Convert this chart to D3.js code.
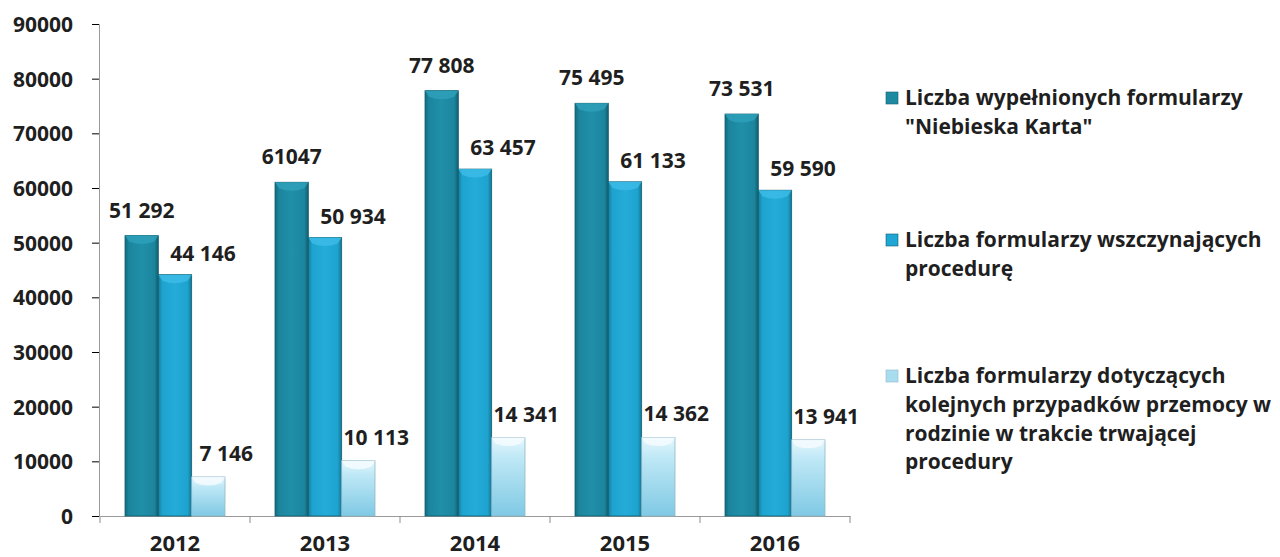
<!DOCTYPE html>
<html>
<head>
<meta charset="utf-8">
<script src="https://cdn.jsdelivr.net/npm/d3@7"></script>
<style>
body{margin:0;background:#fff;}
svg{display:block;font-family:'Open Sans',sans-serif;font-weight:700;}
.tick text{fill:#1f1f1f;}
</style>
</head>
<body>
<script>
var width = 1280;
var height = 557;

var years = ['2012','2013','2014','2015','2016'];
var filled = [51292, 61047, 77808, 75495, 73531];
var started = [44146, 50934, 63457, 61133, 59590];
var further = [7146, 10113, 14341, 14362, 13941];
var labelsFilled = ['51 292','61047','77 808','75 495','73 531'];
var labelsStarted = ['44 146','50 934','63 457','61 133','59 590'];
var labelsFurther = ['7 146','10 113','14 341','14 362','13 941'];
var seriesNames = [
	['Liczba wypełnionych formularzy','"Niebieska Karta"'],
	['Liczba formularzy wszczynających','procedurę'],
	['Liczba formularzy dotyczących','kolejnych przypadków przemocy w','rodzinie w trakcie trwającej','procedury']
];
var yTicks = [0,10000,20000,30000,40000,50000,60000,70000,80000,90000];

var series = [
	{values:filled, labels:labelsFilled, dx:0, dy:-18, grad:'g0', name:seriesNames[0]},
	{values:started, labels:labelsStarted, dx:28, dy:-14, grad:'g1', name:seriesNames[1]},
	{values:further, labels:labelsFurther, dx:18, dy:-16, grad:'g2', name:seriesNames[2]}
];

var svg = d3.select('body').append('svg').attr('width',width).attr('height',height);
var defs = svg.append('defs');

function hGrad(id, stops){
	var g = defs.append('linearGradient').attr('id',id).attr('x1','0').attr('x2','1').attr('y1','0').attr('y2','0');
	stops.forEach(function(s){ g.append('stop').attr('offset',s[0]).attr('stop-color',s[1]); });
}
hGrad('g0',[[0,'#136a7e'],[0.12,'#1c859e'],[0.5,'#208fa8'],[0.88,'#1c859e'],[1,'#125d6e']]);
hGrad('g1',[[0,'#157f9e'],[0.12,'#1ea3cf'],[0.5,'#24abd8'],[0.88,'#1ea3cf'],[1,'#137594']]);
var g2 = defs.append('linearGradient').attr('id','g2').attr('x1','0').attr('x2','0').attr('y1','0').attr('y2','1');
g2.append('stop').attr('offset',0).attr('stop-color','#e4f7fd');
g2.append('stop').attr('offset',0.25).attr('stop-color','#bfe8f6');
g2.append('stop').attr('offset',1).attr('stop-color','#7fc9e4');

var x = d3.scaleBand().domain(years).range([100,850]);
var xs = d3.scaleBand().domain([0,1,2]).range([25,125]);
var y = d3.scaleLinear().domain([0,90000]).range([516,24]);

// axes
var yAxis = svg.append('g').attr('transform','translate(99,0)')
	.call(d3.axisLeft(y).tickValues(yTicks).tickSize(7).tickPadding(19).tickFormat(d3.format('d')));
yAxis.attr('font-family',null).attr('font-size',null);
yAxis.selectAll('text').style('font-size','21px').attr('dy','0.35em');

var xAxis = svg.append('g').attr('transform','translate(0,516)')
	.call(d3.axisBottom(x).tickSize(0).tickPadding(20));
xAxis.attr('font-family',null).attr('font-size',null);
xAxis.selectAll('text').style('font-size','22px').attr('dy','0.7em');
xAxis.selectAll('.tick line').remove();
// category separators
xAxis.selectAll('.sep').data(years.concat(['end'])).enter().append('line')
	.attr('x1',function(d,i){ return 100 + i*x.bandwidth(); })
	.attr('x2',function(d,i){ return 100 + i*x.bandwidth(); })
	.attr('y1',0).attr('y2',7).attr('stroke','#8c8c8c');
svg.selectAll('.domain').attr('stroke','#9a9a9a');

// bars
series.forEach(function(s,si){
	var g = svg.append('g');
	g.selectAll('rect').data(s.values).enter().append('rect')
		.attr('x',function(d,i){ return x(years[i]) + xs(si); })
		.attr('y',function(d){ return y(d); })
		.attr('width',xs.bandwidth())
		.attr('height',function(d){ return y(0)-y(d); })
		.attr('fill','url(#'+s.grad+')')
		.attr('stroke', si==2 ? '#8fb8c6' : '#11606f')
		.attr('stroke-width',0.8);
	// top bevel
	g.selectAll('path').data(s.values).enter().append('path')
		.attr('d',function(d,i){
			var x0 = x(years[i]) + xs(si), w = xs.bandwidth(), t = y(d);
			return 'M'+x0+','+t+' L'+(x0+w)+','+t+' L'+(x0+w-4)+','+(t+6)+' Q'+(x0+w/2)+','+(t+11)+' '+(x0+4)+','+(t+6)+' Z';
		})
		.attr('fill', si==2 ? '#f4fcff' : (si==0 ? '#2ea0ba' : '#3cbbe6'))
		.attr('opacity',0.85);
	g.selectAll('text').data(s.values).enter().append('text')
		.attr('x',function(d,i){ return x(years[i]) + xs(si) + xs.bandwidth()/2 + s.dx; })
		.attr('y',function(d){ return y(d) + s.dy; })
		.attr('text-anchor','middle')
		.style('font-size','21px')
		.attr('fill','#1f1f1f')
		.text(function(d,i){ return s.labels[i]; });
});

// legend
var legendY = [98, 240, 376];
var legend = svg.append('g');
series.forEach(function(s,si){
	var lg = legend.append('g').attr('transform','translate(886,'+legendY[si]+')');
	lg.append('rect').attr('x',0).attr('y',-6).attr('width',12).attr('height',12)
		.attr('fill', si==2 ? '#a8dcef' : (si==0 ? '#1e8aa2' : '#20a6d4'))
		.attr('stroke', si==2 ? '#8fb8c6' : '#11606f').attr('stroke-width',0.6);
	lg.selectAll('text').data(s.name).enter().append('text')
		.attr('x',19)
		.attr('y',function(d,i){ return i*28.7; })
		.attr('dy','0.35em')
		.style('font-size','21px')
		.attr('fill','#1f1f1f')
		.text(function(d){ return d; });
});
</script>
</body>
</html>
